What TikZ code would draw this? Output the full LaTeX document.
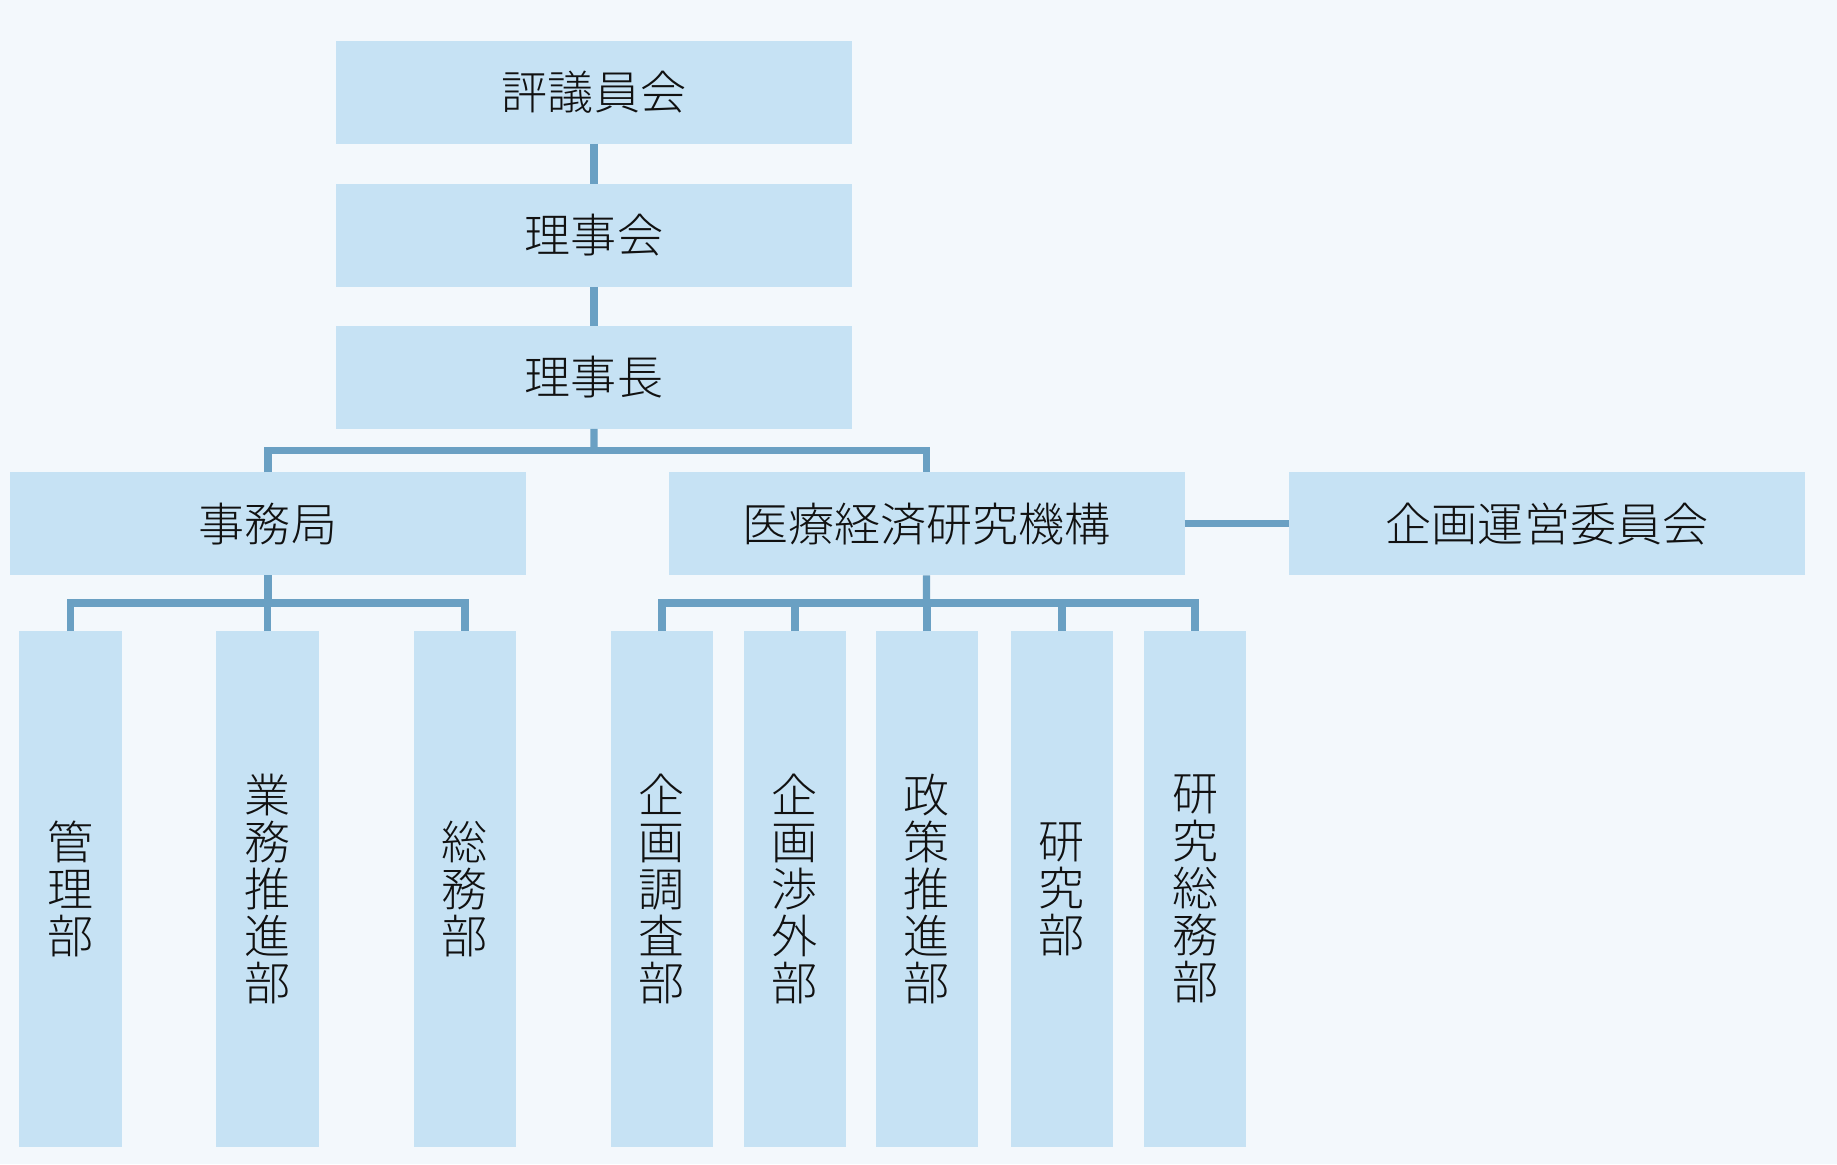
\documentclass[tikz,border=0pt]{standalone}
\usepackage{fontspec}
\usepackage{xcolor}
\usepackage{tikz}
\usetikzlibrary{calc,positioning}
\setmainfont{Noto Sans CJK JP Light}
\definecolor{bg}{HTML}{F3F8FC}
\definecolor{boxfill}{HTML}{C6E2F4}
\definecolor{linkc}{HTML}{6AA0C3}
\definecolor{ink}{HTML}{111111}
\tikzset{
  unit/.style={fill=boxfill, text=ink, inner sep=0pt, outer sep=0pt, minimum width=5.16cm, minimum height=1.03cm, font=\fontsize{13.1pt}{15pt}\selectfont},
  dept/.style={unit, minimum width=1.025cm, minimum height=5.16cm, align=center, font=\fontsize{13.1pt}{13.4pt}\selectfont},
  link/.style={draw=linkc, line width=2.1pt},
}
\begin{document}
\begin{tikzpicture}
  \fill[bg] (0,0) rectangle (18.37,-11.64);

  % top chain
  \node[unit] (hyogi) at (5.94,-0.922) {評議員会};
  \node[unit] (rijikai) at (5.94,-2.353) {理事会};
  \node[unit] (rijicho) at (5.94,-3.773) {理事長};
  \draw[link] (hyogi.south) -- (rijikai.north);
  \draw[link] (rijikai.south) -- (rijicho.north);

  % second row
  \node[unit] (jimu) at (2.68,-5.238) {事務局};
  \node[unit] (kiko) at (9.265,-5.238) {医療経済研究機構};
  \node[unit] (kikaku) at (15.47,-5.238) {企画運営委員会};
  \draw[link] (kiko.east) -- (kikaku.west);

  \coordinate (topfork) at ($(rijicho.south)!0.5!(rijicho.south |- jimu.north)$);
  \draw[link] (rijicho.south) -- (topfork);
  \draw[link] (jimu.north) |- (topfork) -| (kiko.north);

  % jimukyoku departments
  \foreach \x/\n/\t in {0.705/kanri/管\\理\\部, 2.675/gyomu/業\\務\\推\\進\\部, 4.65/somu/総\\務\\部}{
    \node[dept] (\n) at (\x,-8.89) {\t};
  }
  \coordinate (leftfork) at ($(jimu.south)!0.5!(jimu.south |- kanri.north)$);
  \draw[link] (jimu.south) -- (leftfork);
  \draw[link] (kanri.north) |- (leftfork) -| (somu.north);
  \draw[link] (gyomu.north) -- (gyomu.north |- leftfork);

  % kiko departments
  \foreach \x/\n/\t in {6.62/chosa/企\\画\\調\\査\\部, 7.95/shogai/企\\画\\渉\\外\\部, 9.27/seisaku/政\\策\\推\\進\\部, 10.62/kenkyu/研\\究\\部, 11.95/kenso/研\\究\\総\\務\\部}{
    \node[dept] (\n) at (\x,-8.89) {\t};
  }
  \coordinate (rightfork) at ($(kiko.south)!0.5!(kiko.south |- chosa.north)$);
  \draw[link] (kiko.south) -- (rightfork);
  \draw[link] (chosa.north) |- (rightfork) -| (kenso.north);
  \foreach \n in {shogai,seisaku,kenkyu}
    \draw[link] (\n.north) -- (\n.north |- rightfork);
\end{tikzpicture}
\end{document}
